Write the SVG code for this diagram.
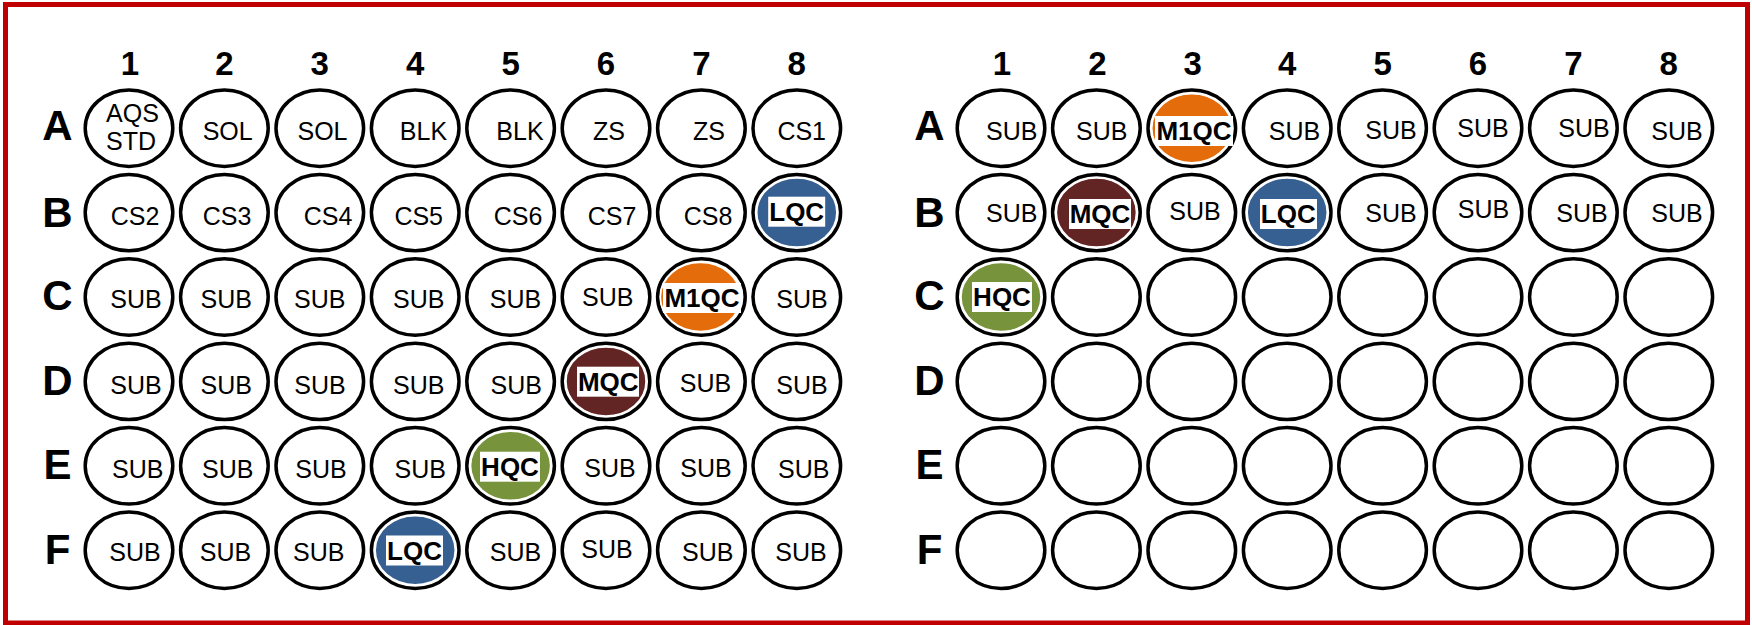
<svg xmlns="http://www.w3.org/2000/svg" width="1752" height="625" viewBox="0 0 1752 625">
<style>
.w{fill:#fff;stroke:#000;stroke-width:3.5}
.q{stroke:#fff;stroke-width:1.5}
.t{font-family:"Liberation Sans",Arial,sans-serif;font-size:25px;text-anchor:middle;fill:#000}
.b{font-family:"Liberation Sans",Arial,sans-serif;font-size:26px;font-weight:bold;text-anchor:middle;fill:#000}
.n{font-family:"Liberation Sans",Arial,sans-serif;font-size:33px;font-weight:bold;text-anchor:middle;fill:#000}
.r{font-family:"Liberation Sans",Arial,sans-serif;font-size:42px;font-weight:bold;text-anchor:middle;fill:#000}
.lb{fill:#fff}
</style>
<defs>
<ellipse id="well" cx="0" cy="0" rx="43.8" ry="38.2" class="w"/>
</defs>
<rect x="0" y="0" width="1752" height="625" fill="#fff"/>
<rect x="5.5" y="4.5" width="1742" height="618.5" fill="none" stroke="#C00000" stroke-width="5"/>

<g id="left-headers">
<text class="n" x="130" y="75">1</text><text class="n" x="224.4" y="75">2</text><text class="n" x="319.8" y="75">3</text><text class="n" x="415.2" y="75">4</text><text class="n" x="510.6" y="75">5</text><text class="n" x="606" y="75">6</text><text class="n" x="701.4" y="75">7</text><text class="n" x="796.8" y="75">8</text>
<text class="r" x="57.5" y="139.5">A</text><text class="r" x="57.5" y="226.5">B</text><text class="r" x="57.5" y="310">C</text><text class="r" x="57.5" y="395">D</text><text class="r" x="57.5" y="479">E</text><text class="r" x="57.5" y="563.5">F</text>
</g>
<g id="right-headers">
<text class="n" x="1002" y="75">1</text><text class="n" x="1097.4" y="75">2</text><text class="n" x="1192.8" y="75">3</text><text class="n" x="1287.2" y="75">4</text><text class="n" x="1382.6" y="75">5</text><text class="n" x="1478" y="75">6</text><text class="n" x="1573.4" y="75">7</text><text class="n" x="1668.8" y="75">8</text>
<text class="r" x="929.5" y="139.5">A</text><text class="r" x="929.5" y="226.5">B</text><text class="r" x="929.5" y="310">C</text><text class="r" x="929.5" y="395">D</text><text class="r" x="929.5" y="479">E</text><text class="r" x="929.5" y="563.5">F</text>
</g>

<g id="left-plate">
<!-- Row A -->
<g id="L-A1"><use href="#well" x="129" y="128.2"/><text class="t" x="132.5" y="122">AQS</text><text class="t" x="131" y="150">STD</text></g>
<g id="L-A2"><use href="#well" x="224.4" y="128.2"/><text class="t" x="227.7" y="140">SOL</text></g>
<g id="L-A3"><use href="#well" x="319.8" y="128.2"/><text class="t" x="322.5" y="140">SOL</text></g>
<g id="L-A4"><use href="#well" x="415.2" y="128.2"/><text class="t" x="423.5" y="140">BLK</text></g>
<g id="L-A5"><use href="#well" x="510.6" y="128.2"/><text class="t" x="520" y="140">BLK</text></g>
<g id="L-A6"><use href="#well" x="606" y="128.2"/><text class="t" x="609" y="140">ZS</text></g>
<g id="L-A7"><use href="#well" x="701.4" y="128.2"/><text class="t" x="709" y="140">ZS</text></g>
<g id="L-A8"><use href="#well" x="796.8" y="128.2"/><text class="t" x="801.7" y="140">CS1</text></g>
<!-- Row B -->
<g id="L-B1"><use href="#well" x="129" y="212.6"/><text class="t" x="135" y="225">CS2</text></g>
<g id="L-B2"><use href="#well" x="224.4" y="212.6"/><text class="t" x="227" y="225">CS3</text></g>
<g id="L-B3"><use href="#well" x="319.8" y="212.6"/><text class="t" x="328" y="225">CS4</text></g>
<g id="L-B4"><use href="#well" x="415.2" y="212.6"/><text class="t" x="418.7" y="225">CS5</text></g>
<g id="L-B5"><use href="#well" x="510.6" y="212.6"/><text class="t" x="518" y="225">CS6</text></g>
<g id="L-B6"><use href="#well" x="606" y="212.6"/><text class="t" x="612" y="225">CS7</text></g>
<g id="L-B7"><use href="#well" x="701.4" y="212.6"/><text class="t" x="708" y="225">CS8</text></g>
<g id="L-B8"><use href="#well" x="796.8" y="212.6"/><ellipse cx="796.8" cy="212.6" rx="40" ry="34.5" fill="#376092" class="q"/><rect class="lb" x="768.2" y="196.7" width="57" height="30"/><text class="b" x="796.7" y="221">LQC</text></g>
<!-- Row C -->
<g id="L-C1"><use href="#well" x="129" y="297"/><text class="t" x="136" y="308.3">SUB</text></g>
<g id="L-C2"><use href="#well" x="224.4" y="297"/><text class="t" x="226.3" y="308.3">SUB</text></g>
<g id="L-C3"><use href="#well" x="319.8" y="297"/><text class="t" x="319.7" y="308.3">SUB</text></g>
<g id="L-C4"><use href="#well" x="415.2" y="297"/><text class="t" x="418.8" y="308.3">SUB</text></g>
<g id="L-C5"><use href="#well" x="510.6" y="297"/><text class="t" x="515.5" y="308.3">SUB</text></g>
<g id="L-C6"><use href="#well" x="606" y="297"/><text class="t" x="607.8" y="306">SUB</text></g>
<g id="L-C7"><use href="#well" x="701.4" y="297"/><ellipse cx="700.4" cy="297" rx="40" ry="34.5" fill="#E46C0A" class="q"/><rect class="lb" x="663" y="283" width="78" height="30"/><text class="b" x="702" y="307.3">M1QC</text></g>
<g id="L-C8"><use href="#well" x="796.8" y="297"/><text class="t" x="802" y="308.3">SUB</text></g>
<!-- Row D -->
<g id="L-D1"><use href="#well" x="129" y="381.4"/><text class="t" x="136" y="394">SUB</text></g>
<g id="L-D2"><use href="#well" x="224.4" y="381.4"/><text class="t" x="226.3" y="394">SUB</text></g>
<g id="L-D3"><use href="#well" x="319.8" y="381.4"/><text class="t" x="320" y="394">SUB</text></g>
<g id="L-D4"><use href="#well" x="415.2" y="381.4"/><text class="t" x="418.8" y="394">SUB</text></g>
<g id="L-D5"><use href="#well" x="510.6" y="381.4"/><text class="t" x="516.3" y="394">SUB</text></g>
<g id="L-D6"><use href="#well" x="606" y="381.4"/><ellipse cx="606" cy="381.4" rx="40" ry="34.5" fill="#632523" class="q"/><rect class="lb" x="577" y="366.7" width="62" height="30"/><text class="b" x="608.3" y="391">MQC</text></g>
<g id="L-D7"><use href="#well" x="701.4" y="381.4"/><text class="t" x="705.5" y="391.7">SUB</text></g>
<g id="L-D8"><use href="#well" x="796.8" y="381.4"/><text class="t" x="802" y="394">SUB</text></g>
<!-- Row E -->
<g id="L-E1"><use href="#well" x="129" y="465.8"/><text class="t" x="137.8" y="478.3">SUB</text></g>
<g id="L-E2"><use href="#well" x="224.4" y="465.8"/><text class="t" x="227.8" y="478.3">SUB</text></g>
<g id="L-E3"><use href="#well" x="319.8" y="465.8"/><text class="t" x="321" y="478.3">SUB</text></g>
<g id="L-E4"><use href="#well" x="415.2" y="465.8"/><text class="t" x="420.3" y="478.3">SUB</text></g>
<g id="L-E5"><use href="#well" x="510.6" y="465.8"/><ellipse cx="510.6" cy="465.8" rx="40" ry="34.5" fill="#77933C" class="q"/><rect class="lb" x="480" y="451.7" width="60" height="30"/><text class="b" x="510" y="476">HQC</text></g>
<g id="L-E6"><use href="#well" x="606" y="465.8"/><text class="t" x="610" y="476.7">SUB</text></g>
<g id="L-E7"><use href="#well" x="701.4" y="465.8"/><text class="t" x="706" y="476.7">SUB</text></g>
<g id="L-E8"><use href="#well" x="796.8" y="465.8"/><text class="t" x="803.7" y="478.3">SUB</text></g>
<!-- Row F -->
<g id="L-F1"><use href="#well" x="129" y="550.2"/><text class="t" x="135" y="560.7">SUB</text></g>
<g id="L-F2"><use href="#well" x="224.4" y="550.2"/><text class="t" x="225.5" y="560.7">SUB</text></g>
<g id="L-F3"><use href="#well" x="319.8" y="550.2"/><text class="t" x="318.8" y="560.7">SUB</text></g>
<g id="L-F4"><use href="#well" x="415.2" y="550.2"/><ellipse cx="415.2" cy="550.2" rx="40" ry="34.5" fill="#376092" class="q"/><rect class="lb" x="386" y="535.5" width="57" height="30"/><text class="b" x="414.5" y="559.8">LQC</text></g>
<g id="L-F5"><use href="#well" x="510.6" y="550.2"/><text class="t" x="515.5" y="560.7">SUB</text></g>
<g id="L-F6"><use href="#well" x="606" y="550.2"/><text class="t" x="607" y="558.3">SUB</text></g>
<g id="L-F7"><use href="#well" x="701.4" y="550.2"/><text class="t" x="707.8" y="560.7">SUB</text></g>
<g id="L-F8"><use href="#well" x="796.8" y="550.2"/><text class="t" x="801" y="560.7">SUB</text></g>
</g>

<g id="right-plate">
<!-- Row A -->
<g id="R-A1"><use href="#well" x="1001" y="128.2"/><text class="t" x="1011.7" y="140">SUB</text></g>
<g id="R-A2"><use href="#well" x="1096.4" y="128.2"/><text class="t" x="1101.8" y="140">SUB</text></g>
<g id="R-A3"><use href="#well" x="1191.8" y="128.2"/><ellipse cx="1191.8" cy="128.2" rx="40" ry="34.5" fill="#E46C0A" class="q"/><rect class="lb" x="1155" y="116" width="78" height="30"/><text class="b" x="1194" y="140.3">M1QC</text></g>
<g id="R-A4"><use href="#well" x="1287.2" y="128.2"/><text class="t" x="1294.5" y="140">SUB</text></g>
<g id="R-A5"><use href="#well" x="1382.6" y="128.2"/><text class="t" x="1391" y="139.3">SUB</text></g>
<g id="R-A6"><use href="#well" x="1478" y="128.2"/><text class="t" x="1483" y="137">SUB</text></g>
<g id="R-A7"><use href="#well" x="1573.4" y="128.2"/><text class="t" x="1584" y="137">SUB</text></g>
<g id="R-A8"><use href="#well" x="1668.8" y="128.2"/><text class="t" x="1677" y="140">SUB</text></g>
<!-- Row B -->
<g id="R-B1"><use href="#well" x="1001" y="212.6"/><text class="t" x="1011.7" y="221.7">SUB</text></g>
<g id="R-B2"><use href="#well" x="1096.4" y="212.6"/><ellipse cx="1096.4" cy="212.6" rx="40" ry="34.5" fill="#632523" class="q"/><rect class="lb" x="1069" y="199" width="62" height="30"/><text class="b" x="1100" y="223.3">MQC</text></g>
<g id="R-B3"><use href="#well" x="1191.8" y="212.6"/><text class="t" x="1195" y="220">SUB</text></g>
<g id="R-B4"><use href="#well" x="1287.2" y="212.6"/><ellipse cx="1287.2" cy="212.6" rx="40" ry="34.5" fill="#376092" class="q"/><rect class="lb" x="1260" y="199" width="57" height="30"/><text class="b" x="1288.3" y="223.3">LQC</text></g>
<g id="R-B5"><use href="#well" x="1382.6" y="212.6"/><text class="t" x="1391" y="221.7">SUB</text></g>
<g id="R-B6"><use href="#well" x="1478" y="212.6"/><text class="t" x="1483.5" y="218">SUB</text></g>
<g id="R-B7"><use href="#well" x="1573.4" y="212.6"/><text class="t" x="1582" y="221.7">SUB</text></g>
<g id="R-B8"><use href="#well" x="1668.8" y="212.6"/><text class="t" x="1677" y="221.7">SUB</text></g>
<!-- Row C -->
<g id="R-C1"><use href="#well" x="1001" y="297"/><ellipse cx="1001" cy="297" rx="40" ry="34.5" fill="#77933C" class="q"/><rect class="lb" x="972" y="282" width="60" height="30"/><text class="b" x="1002" y="306.3">HQC</text></g>
<g id="R-C2"><use href="#well" x="1096.4" y="297"/></g>
<g id="R-C3"><use href="#well" x="1191.8" y="297"/></g>
<g id="R-C4"><use href="#well" x="1287.2" y="297"/></g>
<g id="R-C5"><use href="#well" x="1382.6" y="297"/></g>
<g id="R-C6"><use href="#well" x="1478" y="297"/></g>
<g id="R-C7"><use href="#well" x="1573.4" y="297"/></g>
<g id="R-C8"><use href="#well" x="1668.8" y="297"/></g>
<!-- Row D -->
<g id="R-D1"><use href="#well" x="1001" y="381.4"/></g>
<g id="R-D2"><use href="#well" x="1096.4" y="381.4"/></g>
<g id="R-D3"><use href="#well" x="1191.8" y="381.4"/></g>
<g id="R-D4"><use href="#well" x="1287.2" y="381.4"/></g>
<g id="R-D5"><use href="#well" x="1382.6" y="381.4"/></g>
<g id="R-D6"><use href="#well" x="1478" y="381.4"/></g>
<g id="R-D7"><use href="#well" x="1573.4" y="381.4"/></g>
<g id="R-D8"><use href="#well" x="1668.8" y="381.4"/></g>
<!-- Row E -->
<g id="R-E1"><use href="#well" x="1001" y="465.8"/></g>
<g id="R-E2"><use href="#well" x="1096.4" y="465.8"/></g>
<g id="R-E3"><use href="#well" x="1191.8" y="465.8"/></g>
<g id="R-E4"><use href="#well" x="1287.2" y="465.8"/></g>
<g id="R-E5"><use href="#well" x="1382.6" y="465.8"/></g>
<g id="R-E6"><use href="#well" x="1478" y="465.8"/></g>
<g id="R-E7"><use href="#well" x="1573.4" y="465.8"/></g>
<g id="R-E8"><use href="#well" x="1668.8" y="465.8"/></g>
<!-- Row F -->
<g id="R-F1"><use href="#well" x="1001" y="550.2"/></g>
<g id="R-F2"><use href="#well" x="1096.4" y="550.2"/></g>
<g id="R-F3"><use href="#well" x="1191.8" y="550.2"/></g>
<g id="R-F4"><use href="#well" x="1287.2" y="550.2"/></g>
<g id="R-F5"><use href="#well" x="1382.6" y="550.2"/></g>
<g id="R-F6"><use href="#well" x="1478" y="550.2"/></g>
<g id="R-F7"><use href="#well" x="1573.4" y="550.2"/></g>
<g id="R-F8"><use href="#well" x="1668.8" y="550.2"/></g>
</g>
<g id="connectors"/>
</svg>
